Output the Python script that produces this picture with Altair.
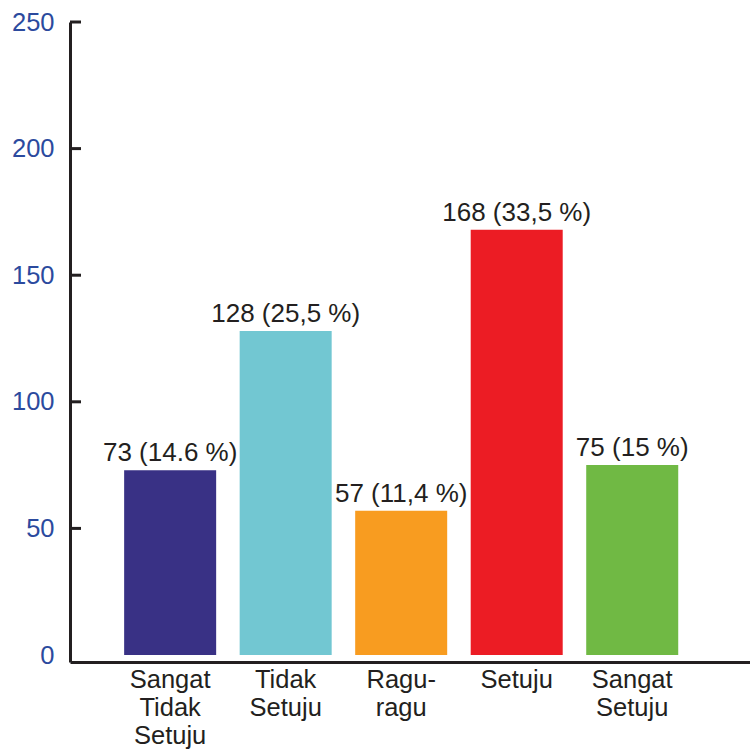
import altair as alt
import pandas as pd

# Survey responses per answer option
categories = ["Sangat Tidak Setuju", "Tidak Setuju", "Ragu-ragu", "Setuju", "Sangat Setuju"]
counts = [73, 128, 57, 168, 75]
percent_text = ["14.6", "25,5", "11,4", "33,5", "15"]
bar_colors = ["#393185", "#72C7D2", "#F89C20", "#EC1C24", "#70B944"]
y_tick_values = [0, 50, 100, 150, 200, 250]
y_tick_marks = [50, 100, 150, 200, 250]

df = pd.DataFrame({
    "kategori": categories,
    "jumlah": counts,
    "label": [f"{c} ({p} %)" for c, p in zip(counts, percent_text)],
})
ticks_df = pd.DataFrame({"jumlah": y_tick_marks})

FONT = "Liberation Sans"
DARK = "#231f20"
BLUE = "#2b4a9e"

x_scale = alt.Scale(domain=categories, paddingInner=0.2035, paddingOuter=0.545, align=0.43)
y_scale = alt.Scale(domain=[-2.76, 250], nice=False, zero=False)

x_axis = alt.Axis(
    labelAngle=0,
    labelFontSize=25.5,
    labelFont=FONT,
    labelColor=DARK,
    labelLineHeight=28,
    labelPadding=5,
    labelBaseline="top",
    ticks=False,
    tickSize=0,
    domainColor=DARK,
    domainWidth=3,
    labelExpr="split(replace(datum.label, '-', '- '), ' ')",
)
y_axis = alt.Axis(
    values=y_tick_values,
    labelFontSize=25.5,
    labelFont=FONT,
    labelColor=BLUE,
    labelPadding=16,
    ticks=False,
    tickSize=0,
    grid=False,
    domainColor=DARK,
    domainWidth=3,
)

x_enc = alt.X("kategori:N", sort=categories, scale=x_scale, title=None, axis=x_axis)
y_enc = alt.Y("jumlah:Q", scale=y_scale, title=None, axis=y_axis)

bars = alt.Chart(df).mark_bar().encode(
    x=x_enc,
    y=y_enc,
    y2=alt.datum(0),
    color=alt.Color("kategori:N", scale=alt.Scale(domain=categories, range=bar_colors), legend=None),
)

labels = alt.Chart(df).mark_text(
    fontSize=26, font=FONT, color=DARK, baseline="alphabetic", dy=-9
).encode(
    x=x_enc,
    y=y_enc,
    text="label:N",
)

# inward-pointing tick marks on the value axis
tick_rules = alt.Chart(ticks_df).mark_rule(color=DARK, strokeWidth=3).encode(
    y=y_enc,
    x=alt.value(0),
    x2=alt.value(11),
)

chart = (
    alt.layer(bars, labels, tick_rules)
    .properties(
        width=680,
        height=640,
        autosize=alt.AutoSizeParams(type="none"),
        padding={"left": 70, "top": 22, "right": 0, "bottom": 89},
        background="white",
    )
    .configure_view(stroke=None)
)

chart.save("out.html", embed_options={"renderer": "svg", "actions": False})
